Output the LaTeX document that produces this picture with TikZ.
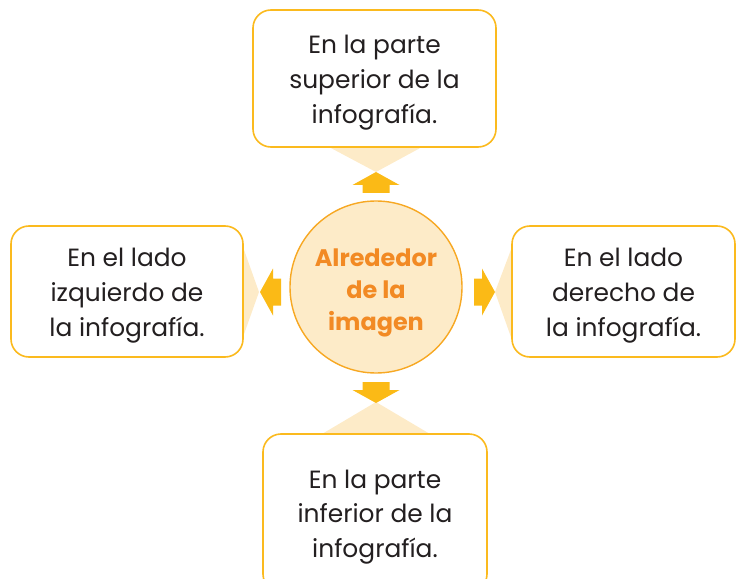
\documentclass[tikz,border=0pt]{standalone}
\usepackage{fontspec}
\setmainfont{Poppins}
\definecolor{boxgold}{HTML}{FBBA1E}
\definecolor{arrowgold}{HTML}{FBBA16}
\definecolor{cream}{HTML}{FDEBC8}
\definecolor{ringorange}{HTML}{F7A823}
\definecolor{textorange}{HTML}{F28A24}
\definecolor{inkgray}{HTML}{231F20}
\newcommand\boxstrut{\rule{0pt}{26.5bp}}
\newcommand\corestrut{\rule{0pt}{30bp}}
\tikzset{
    infobox/.style={draw=boxgold, line width=1.6bp, fill=white, rounded corners=18bp,
        inner sep=0pt, align=center, text=inkgray,
        font=\fontsize{25}{35}\selectfont},
    funnel/.style={fill=cream},
    blockarrow/.pic={\fill[arrowgold] (0,-13.5) -- (8,-13.5) -- (8,-23.5) -- (21,0)
        -- (8,23.5) -- (8,13.5) -- (0,13.5) -- cycle;}
}
\begin{document}
\begin{tikzpicture}[x=1bp, y=-1bp]
    \useasboundingbox (0,0) rectangle (736,579);
    \clip (0,0) rectangle (736,579);
    % arrow tips
    \coordinate (tipN) at (376,172);
    \coordinate (tipS) at (376,402);
    \coordinate (tipW) at (259,292);
    \coordinate (tipE) at (495,292);
    % funnels under the boxes
    \fill[funnel] (329,147) -- (422,147) -- (tipN) -- cycle;
    \fill[funnel] (322,434) -- (430,434) -- (tipS) -- cycle;
    \fill[funnel] (243,247) -- (243,337) -- (tipW) -- cycle;
    \fill[funnel] (512,247) -- (512,340) -- (tipE) -- cycle;
    % boxes
    \node[infobox, minimum width=243bp, minimum height=137bp] (top) at (374.5,78.5)
        {\boxstrut En la parte\\superior de la\\infografía.};
    \node[infobox, minimum width=232bp, minimum height=131bp] (left) at (127,291.5)
        {\boxstrut En el lado\\izquierdo de\\la infografía.};
    \node[infobox, minimum width=223bp, minimum height=131bp] (right) at (623.5,291.5)
        {\boxstrut En el lado\\derecho de\\la infografía.};
    \node[infobox, minimum width=224bp, minimum height=158bp] (bottom) at (375,513)
        {\boxstrut En la parte\\inferior de la\\infografía.};
    % centre
    \node[circle, draw=ringorange, line width=1.4bp, fill=cream, minimum size=172bp,
        inner sep=0pt, align=center, text=textorange,
        font=\bfseries\fontsize{24}{32}\selectfont] (core) at (376,287)
        {\corestrut Alrededor\\de la\\imagen};
    % arrows
    \pic[rotate=90] at (376,193) {blockarrow};
    \pic[rotate=-90] at (376,382) {blockarrow};
    \pic[rotate=180] at (281,292) {blockarrow};
    \pic at (474,292) {blockarrow};
\end{tikzpicture}
\end{document}
